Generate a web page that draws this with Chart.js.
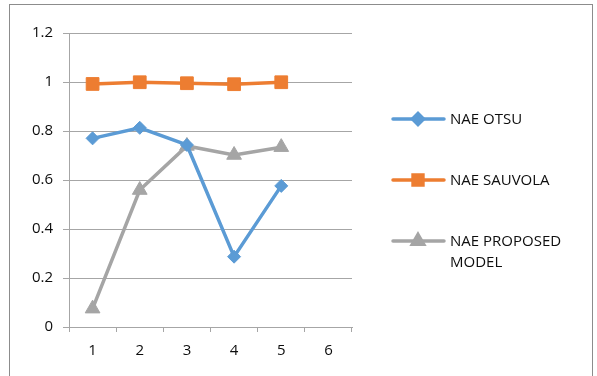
<!DOCTYPE html>
<html>
<head>
<meta charset="utf-8">
<script src="https://cdn.jsdelivr.net/npm/chart.js@4/dist/chart.umd.min.js"></script>
<style>
  html, body { margin: 0; padding: 0; background: #fff; }
  #wrap { width: 597px; height: 376px; }
</style>
</head>
<body>
<div id="wrap"><canvas id="c" width="597" height="376"></canvas></div>
<script>
// Category labels along the x axis (6 has no values)
const categories = ['1', '2', '3', '4', '5', '6'];

// NAE values per method
const naeOtsu     = [0.770, 0.813, 0.743, 0.287, 0.576, null];
const naeSauvola  = [0.992, 0.999, 0.995, 0.991, 0.999, null];
const naeProposed = [0.075, 0.559, 0.739, 0.702, 0.734, null];

const seriesNames = ['NAE OTSU', 'NAE SAUVOLA', ['NAE PROPOSED', 'MODEL']];

// y axis ticks
const yMin = 0, yMax = 1.2, yStep = 0.2;

const FONT = '"Open Sans", "Liberation Sans", sans-serif';
const GRID = '#a6a6a6';
const TEXT = '#0d0d0d';

// outer chart frame
const framePlugin = {
  id: 'frame',
  beforeDraw(chart) {
    const ctx = chart.ctx;
    ctx.save();
    ctx.fillStyle = '#ffffff';
    ctx.fillRect(0, 0, chart.width, chart.height);
    ctx.strokeStyle = '#8c8c8c';
    ctx.lineWidth = 1;
    ctx.strokeRect(9.5, 4.5, 583, 420);
    ctx.restore();
  }
};

// legend on the right, with wrapped label for the last series
const sideLegend = {
  id: 'sideLegend',
  afterDraw(chart) {
    const ctx = chart.ctx;
    const rows = [119, 180, 241];
    ctx.save();
    chart.data.datasets.forEach((ds, i) => {
      const y = rows[i];
      ctx.strokeStyle = ds.borderColor;
      ctx.lineWidth = ds.borderWidth;
      ctx.lineCap = 'round';
      ctx.beginPath();
      ctx.moveTo(393, y);
      ctx.lineTo(444, y);
      ctx.stroke();
      ctx.fillStyle = ds.pointBackgroundColor;
      ctx.strokeStyle = ds.pointBackgroundColor;
      Chart.helpers.drawPoint(ctx, {
        pointStyle: ds.pointStyle,
        radius: ds.legendRadius,
        borderWidth: 1,
        rotation: 0
      }, 418, y);
      ctx.fillStyle = TEXT;
      ctx.font = '15px ' + FONT;
      ctx.textBaseline = 'middle';
      ctx.textAlign = 'left';
      const lines = Array.isArray(seriesNames[i]) ? seriesNames[i] : [seriesNames[i]];
      lines.forEach((t, k) => ctx.fillText(t, 450, y + 1 + k * 21));
    });
    ctx.restore();
  }
};

function makeSet(label, data, color, style, radius, legendRadius, width) {
  return {
    label: Array.isArray(label) ? label.join(' ') : label,
    data,
    borderColor: color,
    backgroundColor: color,
    pointBackgroundColor: color,
    pointBorderColor: color,
    pointBorderWidth: 1,
    pointStyle: style,
    pointRadius: radius,
    pointHoverRadius: radius,
    borderWidth: width,
    legendRadius,
    tension: 0,
    spanGaps: false
  };
}

new Chart(document.getElementById('c'), {
  type: 'line',
  data: {
    labels: categories,
    datasets: [
      makeSet(seriesNames[0], naeOtsu, '#5b9bd5', 'rectRot', 6.5, 5.5, 3.5),
      makeSet(seriesNames[1], naeSauvola, '#ed7d31', 'rect', 9, 7, 3.5),
      makeSet(seriesNames[2], naeProposed, '#a5a5a5', 'triangle', 8.5, 6.5, 3.5)
    ]
  },
  options: {
    responsive: false,
    animation: false,
    events: [],
    layout: { padding: { top: 33, right: 245, left: 0, bottom: 0 } },
    plugins: {
      legend: { display: false },
      tooltip: { enabled: false },
      title: { display: false }
    },
    scales: {
      x: {
        type: 'category',
        offset: true,
        afterFit(s) { s.height = 49; },
        grid: {
          offset: true,
          drawOnChartArea: false,
          drawTicks: true,
          tickLength: 5,
          color: GRID,
          lineWidth: 1
        },
        border: { display: true, color: GRID, width: 1 },
        ticks: {
          color: TEXT,
          font: { family: FONT, size: 15 },
          padding: 10,
          maxRotation: 0
        }
      },
      y: {
        min: yMin,
        max: yMax,
        afterFit(s) { s.width = 69; },
        grid: {
          color: GRID,
          lineWidth: 1,
          drawTicks: true,
          tickLength: 6
        },
        border: { display: true, color: GRID, width: 1 },
        ticks: {
          stepSize: yStep,
          color: TEXT,
          font: { family: FONT, size: 15 },
          padding: 10,
          callback: (v) => String(Math.round(v * 10) / 10)
        }
      }
    }
  },
  plugins: [framePlugin, sideLegend]
});
</script>
</body>
</html>
